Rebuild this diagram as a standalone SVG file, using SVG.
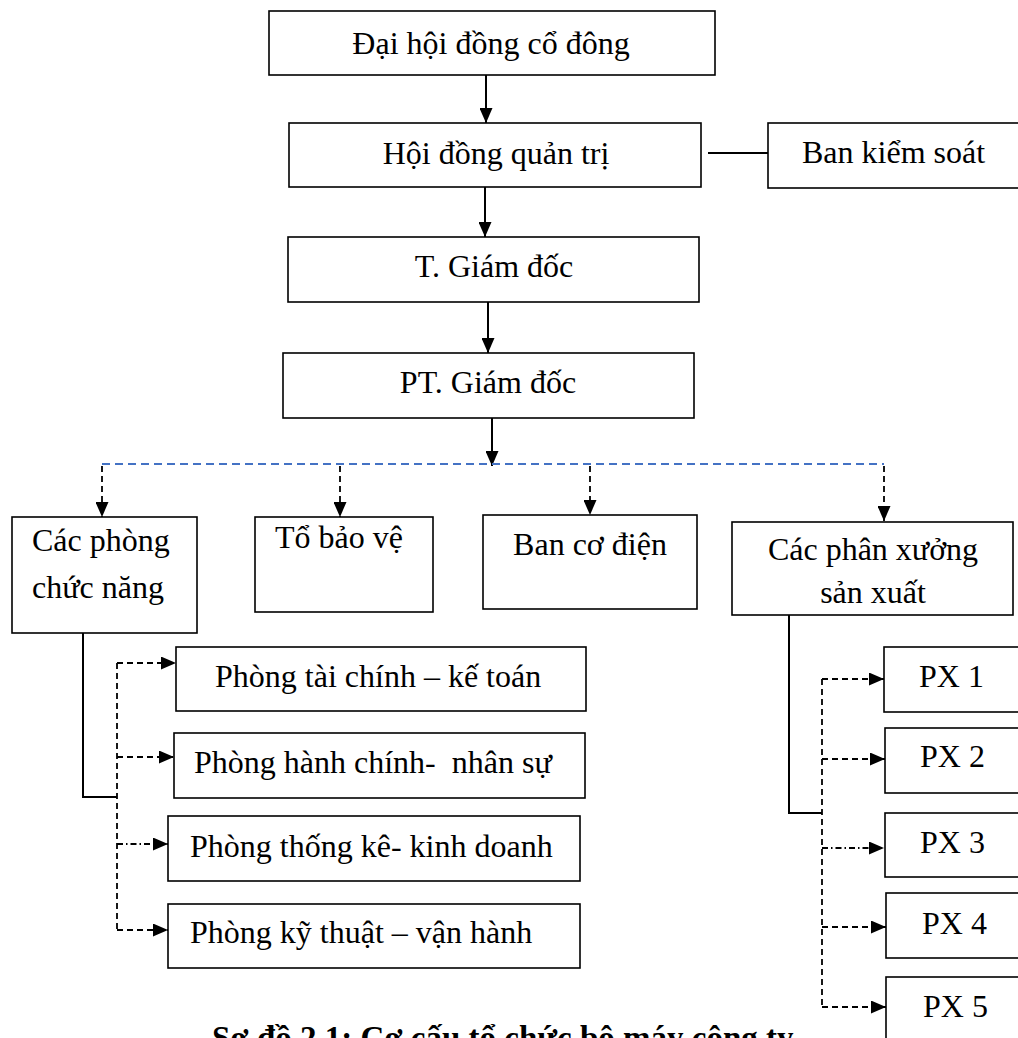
<svg xmlns="http://www.w3.org/2000/svg" width="1018" height="1038" viewBox="0 0 1018 1038">
<style>
rect.b{fill:#fff;stroke:#000;stroke-width:1.6}
text{font-family:"Liberation Serif","Times New Roman",serif;font-size:32px;fill:#000}
text.c{text-anchor:middle}
.s{fill:none;stroke:#000;stroke-width:2}
.d{fill:none;stroke:#000;stroke-width:1.8;stroke-dasharray:6,4}
.dd{fill:none;stroke:#000;stroke-width:1.8;stroke-dasharray:6,3,1.5,3}
.bl{fill:none;stroke:#4472C4;stroke-width:2;stroke-dasharray:8,5}
</style>
<defs>
<marker id="ah" markerUnits="userSpaceOnUse" markerWidth="15" markerHeight="13" refX="15" refY="6.5" orient="auto">
<path d="M0,0 L15,6.5 L0,13 Z" fill="#000"/>
</marker>
</defs>
<g id="connectors">
<path class="s" d="M486,75 V123" marker-end="url(#ah)"/>
<path class="s" d="M708,153 H768"/>
<path class="s" d="M485,187 V237" marker-end="url(#ah)"/>
<path class="s" d="M488,302 V353" marker-end="url(#ah)"/>
<path class="s" d="M492,418 V466" marker-end="url(#ah)"/>
<path class="bl" d="M102,464 H884"/>
<path class="d" d="M102,466 V517" marker-end="url(#ah)"/>
<path class="d" d="M340,466 V517" marker-end="url(#ah)"/>
<path class="d" d="M590,466 V515" marker-end="url(#ah)"/>
<path class="d" d="M884,466 V521" marker-end="url(#ah)"/>
<path class="s" d="M83,633 V797 H117"/>
<path class="d" d="M117,663 V930"/>
<path class="d" d="M117,663 H176" marker-end="url(#ah)"/>
<path class="d" d="M117,757 H174" marker-end="url(#ah)"/>
<path class="dd" d="M117,844 H168" marker-end="url(#ah)"/>
<path class="d" d="M117,930 H168" marker-end="url(#ah)"/>
<path class="s" d="M789,615 V813 H822"/>
<path class="d" d="M822,679 V1007"/>
<path class="d" d="M822,679 H884" marker-end="url(#ah)"/>
<path class="d" d="M822,759 H885" marker-end="url(#ah)"/>
<path class="dd" d="M822,848 H884" marker-end="url(#ah)"/>
<path class="d" d="M822,927 H886" marker-end="url(#ah)"/>
<path class="d" d="M822,1007 H886" marker-end="url(#ah)"/>
</g>
<g id="dhdcd"><rect class="b" x="269" y="11" width="446" height="64"/><text class="c" x="491" y="54">Đại hội đồng cổ đông</text></g>
<g id="hdqt"><rect class="b" x="289" y="123" width="412" height="64"/><text class="c" x="496" y="164">Hội đồng quản trị</text></g>
<g id="bks"><rect class="b" x="768" y="123" width="270" height="65"/><text x="802" y="163">Ban kiểm soát</text></g>
<g id="tgd"><rect class="b" x="288" y="237" width="411" height="65"/><text class="c" x="494" y="277">T. Giám đốc</text></g>
<g id="ptgd"><rect class="b" x="283" y="353" width="411" height="65"/><text class="c" x="488" y="393">PT. Giám đốc</text></g>
<g id="cacphong"><rect class="b" x="12" y="517" width="185" height="116"/><text x="32" y="551">Các phòng</text><text x="32" y="598">chức năng</text></g>
<g id="tobaove"><rect class="b" x="255" y="517" width="178" height="95"/><text x="275" y="548">Tổ bảo vệ</text></g>
<g id="bancodien"><rect class="b" x="483" y="515" width="214" height="94"/><text class="c" x="590" y="555">Ban cơ điện</text></g>
<g id="phanxuong"><rect class="b" x="732" y="522" width="281" height="93"/><text class="c" x="873" y="560">Các phân xưởng</text><text class="c" x="873" y="603">sản xuất</text></g>
<g id="p_tckt"><rect class="b" x="176" y="647" width="410" height="64"/><text x="215" y="687">Phòng tài chính – kế toán</text></g>
<g id="p_hcns"><rect class="b" x="174" y="733" width="411" height="65"/><text x="194" y="773">Phòng hành chính-&#160; nhân sự</text></g>
<g id="p_tkkd"><rect class="b" x="168" y="816" width="412" height="65"/><text x="190" y="857">Phòng thống kê- kinh doanh</text></g>
<g id="p_ktvh"><rect class="b" x="168" y="904" width="412" height="64"/><text x="190" y="943">Phòng kỹ thuật – vận hành</text></g>
<g id="px1"><rect class="b" x="884" y="647" width="150" height="65"/><text x="919" y="687">PX 1</text></g>
<g id="px2"><rect class="b" x="885" y="728" width="150" height="65"/><text x="920" y="767">PX 2</text></g>
<g id="px3"><rect class="b" x="885" y="813" width="150" height="64"/><text x="920" y="853">PX 3</text></g>
<g id="px4"><rect class="b" x="886" y="893" width="150" height="65"/><text x="922" y="934">PX 4</text></g>
<g id="px5"><rect class="b" x="886" y="977" width="150" height="80"/><text x="923" y="1017">PX 5</text></g>
<text x="212" y="1049" style="font-weight:bold;font-size:33px">Sơ đồ 2.1: Cơ cấu tổ chức bộ máy công ty</text>
</svg>
